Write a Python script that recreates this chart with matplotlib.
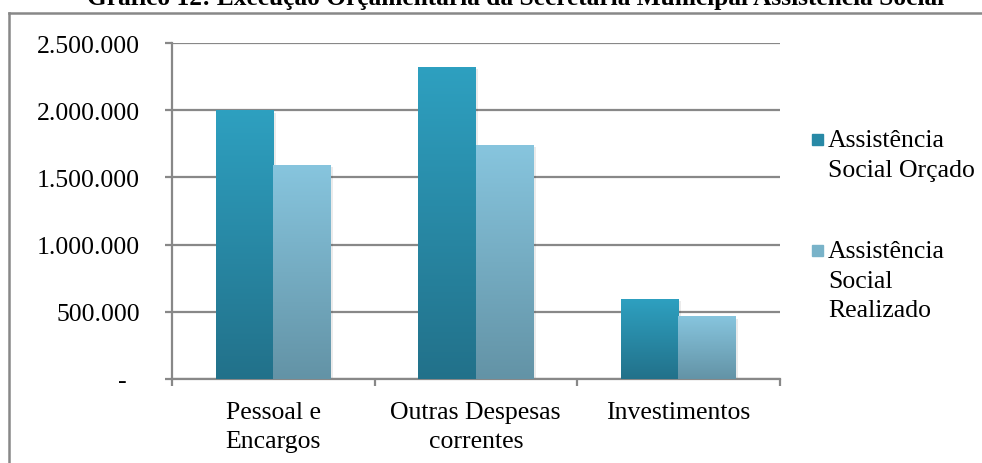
# Grafico 12 - execucao orcamentaria, assistencia social
import numpy as np
import matplotlib.pyplot as plt
from matplotlib.colors import LinearSegmentedColormap
from matplotlib.ticker import FuncFormatter

plt.rcParams['font.family'] = ['Liberation Serif', 'DejaVu Serif']

categorias = ['Pessoal e\nEncargos', 'Outras Despesas\ncorrentes', 'Investimentos']
orcado = [1995000, 2320000, 595000]
realizado = [1592000, 1740000, 462000]
series = ['Assistência\nSocial Orçado', 'Assistência\nSocial\nRealizado']

W, H = 982, 464
FS = 18.5
fig = plt.figure(figsize=(W / 100, H / 100), dpi=100)
ax = fig.add_axes([172 / W, 1 - 380 / H, (779.5 - 172) / W, (380 - 44) / H])

x = np.arange(len(categorias)) + 0.5
bw = 0.284

grad_orc = LinearSegmentedColormap.from_list('orc', ['#22718a', '#2ea0c0'])
grad_rea = LinearSegmentedColormap.from_list('rea', ['#6393a6', '#87c5de'])
grad = np.linspace(0, 1, 256).reshape(-1, 1)

b1 = ax.bar(x - bw / 2, orcado, bw, color='none', zorder=3)
b2 = ax.bar(x + bw / 2, realizado, bw, color='none', zorder=3)
for bars, cmap in [(b1, grad_orc), (b2, grad_rea)]:
    for b in bars:
        x0, w, h = b.get_x(), b.get_width(), b.get_height()
        # sombra leve
        ax.bar(x0 + w / 2 + 0.012, h, w, bottom=-15000, color='#000000', alpha=0.08, zorder=2)
        ax.imshow(grad, cmap=cmap, origin='lower', aspect='auto',
                  extent=[x0, x0 + w, 0, h], zorder=3)

ax.set_xlim(0, 3)
ax.set_ylim(0, 2500000)
ax.set_yticks(np.arange(0, 2500001, 500000))
ax.yaxis.set_major_formatter(FuncFormatter(
    lambda v, p: '-  ' if v == 0 else f'{int(v):,}'.replace(',', '.')))
ax.set_xticks([0, 1, 2, 3])
ax.set_xticklabels([])
ax.grid(axis='y', color='#888888', lw=1.6, zorder=1)
ax.set_axisbelow(True)
for s in ['top', 'right']:
    ax.spines[s].set_visible(False)
for s in ['left', 'bottom']:
    ax.spines[s].set_color('#888888')
    ax.spines[s].set_linewidth(1.6)
ax.tick_params(axis='y', length=5, width=1.6, color='#888888', pad=18, labelsize=FS)
ax.tick_params(axis='x', length=5, width=1.6, color='#888888')


def linhas(xp, y0, texto, ha, passo=29.5):
    # escreve cada linha numa baseline fixa (pixels a partir do topo)
    for i, t in enumerate(texto.split('\n')):
        fig.text(xp / W, 1 - (y0 + i * passo) / H, t, ha=ha, va='baseline', fontsize=FS)


for xi, lab in zip(x, categorias):
    xp = 172 + xi / 3 * (779.5 - 172)
    linhas(xp, 419, lab, 'center')

# legenda
for yl, lab, col in [(147, series[0], '#2889a6'), (258, series[1], '#79b3c9')]:
    fig.patches.append(plt.Rectangle((812 / W, 1 - (yl - 1) / H), 11 / W, 11 / H,
                                     transform=fig.transFigure, color=col))
    linhas(828, yl, lab, 'left')

# moldura
fig.add_artist(plt.Line2D([9 / W, 9 / W], [0, 1 - 14 / H], color='#888888', lw=1.8))
fig.add_artist(plt.Line2D([9 / W, 1], [1 - 14 / H, 1 - 14 / H], color='#888888', lw=1.8))

fig.text(516 / W, 1 - 5 / H,
         'Gráfico 12: Execução Orçamentária da Secretaria Municipal Assistência Social',
         ha='center', va='baseline', fontsize=18.3, fontweight='bold')

plt.savefig('out.png', dpi=100)
